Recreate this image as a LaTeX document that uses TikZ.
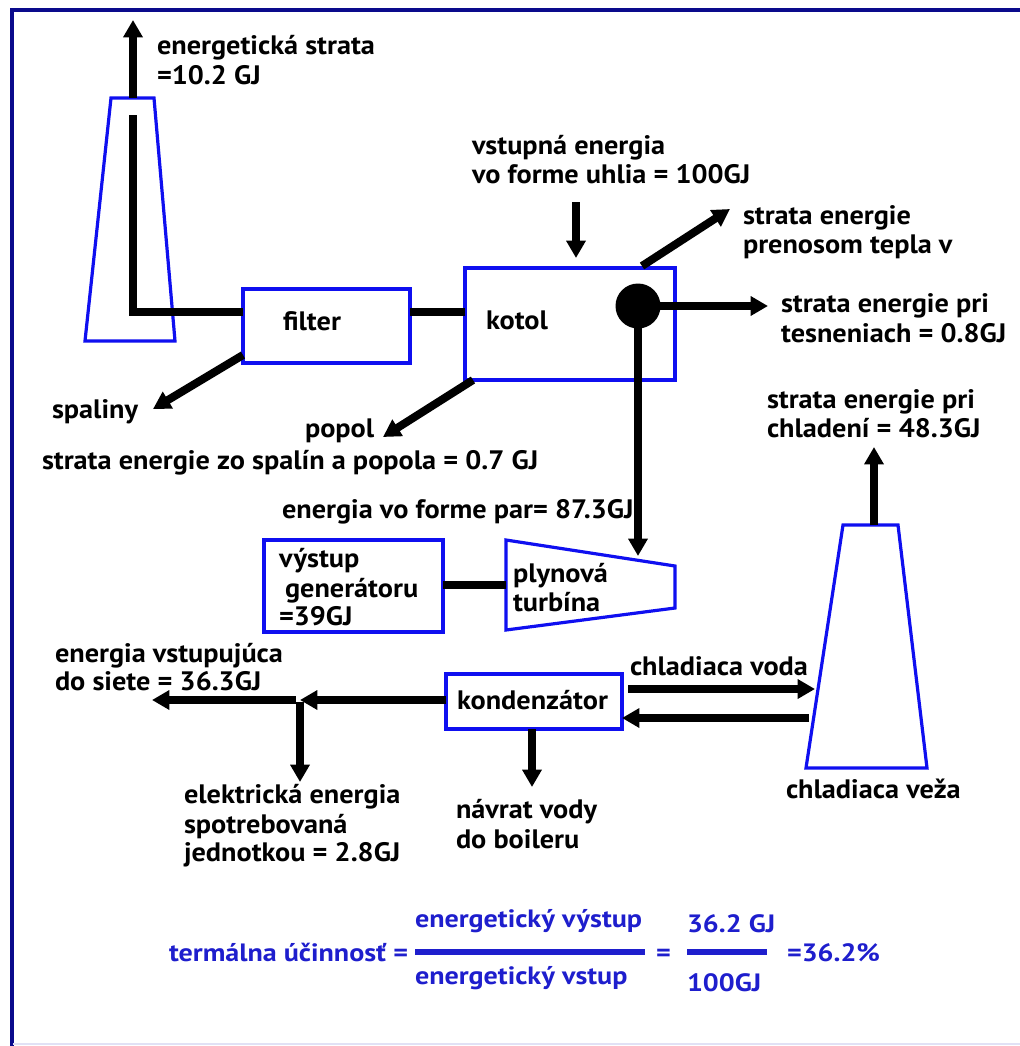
\documentclass[tikz,border=0pt]{standalone}
\usepackage{fontspec}
\setmainfont{PT Sans}[FakeStretch=1.06]
\newfontfamily\ffont{PT Sans}[FakeStretch=1.12]
\usetikzlibrary{arrows.meta,fit}
\definecolor{navy}{RGB}{10,10,140}
\definecolor{boxblue}{RGB}{15,15,240}
\definecolor{fblue}{RGB}{30,30,205}
\definecolor{lav}{RGB}{225,225,245}
\newdimen\px \px=0.75pt
\newcommand{\lblfont}{\bfseries\fontsize{20}{24}\selectfont}
\newcommand{\fmlfont}{\ffont\bfseries\fontsize{18.8}{22}\selectfont\color{fblue}}
\begin{document}
\begin{tikzpicture}[x=0.75pt,y=-0.75pt,
  lbl/.style={anchor=base west, inner sep=0pt, outer sep=0pt, font=\lblfont, align=left},
  flbl/.style={anchor=base west, inner sep=0pt, outer sep=0pt, font=\fmlfont},
  flow/.style={line width=6pt, black},
  arr/.style={flow, -{Triangle[length=13pt,width=14pt]}},
  unit/.style={draw=boxblue, line width=2.6pt, inner sep=0pt, outer sep=0pt},
  tower/.style={draw=boxblue, line width=2.4pt, line join=miter},
  fracline/.style={draw=fblue, line width=3.8pt}]
\fill[white] (0,0) rectangle (1020,1046);
\useasboundingbox (0,0) rectangle (1020,1046);
% frame
\draw[navy, line width=3pt] (11.5,1046) -- (11.5,9.5) -- (1020,9.5);
\draw[lav, line width=1.5pt] (13,1044) -- (1020,1044);

% chimney
\draw[tower] (111,98) -- (154,98) -- (175,341) -- (85,341) -- cycle;
\coordinate (chimtop) at (133,98);
\coordinate (chimout) at (133,20);
\coordinate (flueA) at (133,115);
\coordinate (flueB) at (133,312);

% units
\node[unit, fit={(243,289)(410,363)}] (filter) {};
\node[unit, fit={(465,268)(675,380)}] (kotol) {};
\node[unit, fit={(264,540)(443,632)}] (gen) {};
\node[unit, fit={(446,674)(622,729)}] (kond) {};
\draw[tower] (506,540) -- (675,566) -- (675,608) -- (506,630) -- cycle;
\coordinate (turbtop) at (638,556);
\coordinate (turbin) at (506,585);
\draw[tower] (843,525) -- (898,525) -- (927,768) -- (806,768) -- cycle;
\coordinate (towtop) at (874,525);
\coordinate (towout) at (874,447);

\node[circle, fill=black, minimum size=45\px, inner sep=0pt] (dot) at (638,306) {};

% texts
\node[lbl] at (157,54) {energetická strata};
\node[lbl] at (157,84) {=10.2 GJ};
\node[lbl] at (472,154) {vstupná energia};
\node[lbl] at (472,183) {vo forme uhlia = 100GJ};
\node[lbl] at (743,224) {strata energie};
\node[lbl] at (743,253) {prenosom tepla v};
\node[lbl] at (781,312) {strata energie pri};
\node[lbl] at (781,342) {tesneniach = 0.8GJ};
\node[lbl] at (283,330) {filter};
\node[lbl] at (486,329) {kotol};
\node[lbl] at (52,418) {spaliny};
\node[lbl] at (305,437) {popol};
\node[lbl] at (42,469) {strata energie zo spalín a popola = 0.7 GJ};
\node[lbl] at (767,408) {strata energie pri};
\node[lbl] at (767,437) {chladení = 48.3GJ};
\node[lbl] at (282,518) {energia vo forme par= 87.3GJ};
\node[lbl] at (279,567) {výstup};
\node[lbl] at (285,597) {generátoru};
\node[lbl] at (279,625) {=39GJ};
\node[lbl] at (513,582) {plynová};
\node[lbl] at (513,611) {turbína};
\node[lbl] at (55,662) {energia vstupujúca};
\node[lbl] at (55,690) {do siete = 36.3GJ};
\node[lbl] at (630,675) {chladiaca voda};
\node[lbl] at (457,709) {kondenzátor};
\node[lbl] at (786,798) {chladiaca veža};
\node[lbl] at (184,803) {elektrická energia};
\node[lbl] at (184,833) {spotrebovaná};
\node[lbl] at (184,861) {jednotkou = 2.8GJ};
\node[lbl] at (456,818) {návrat vody};
\node[lbl] at (456,848) {do boileru};

% free ends
\coordinate (coalin) at (576,202);
\coordinate (coalend) at (576,258);
\coordinate (heatend) at (730,209);
\coordinate (sealend) at (768,306);
\coordinate (spalend) at (153,409);
\coordinate (popend) at (383,437);
\coordinate (junc) at (300,700);
\coordinate (gridend) at (152,700);
\coordinate (selfend) at (300,782);
\coordinate (boilend) at (532,787);

% connectors
\draw[arr] (chimtop) -- (chimout);
\draw[flow] (flueA) -- (flueB) -- (filter.west |- flueB);
\draw[flow] (filter.east |- flueB) -- (kotol.west |- flueB);
\draw[arr] (filter.south west) ++(0,-8) -- (spalend);
\draw[arr] (kotol.south west) ++(8,0) -- (popend);
\draw[arr] (coalin) -- (coalend);
\draw[arr] (kotol.north -| 642,0) ++(0,-2) -- (heatend);
\draw[arr] (dot.center) -- (sealend);
\draw[arr] (dot.center) -- (turbtop);
\draw[flow] (gen.east |- turbin) -- (turbin);
\draw[arr] (kond.west |- junc) -- (junc);
\draw[arr] (junc) ++(-4,0) -- (gridend);
\draw[arr] (junc) ++(0,2) -- (selfend);
\draw[arr] (kond.south -| boilend) -- (boilend);
\draw[arr] (kond.east |- 0,689) ++(6,0) -- (815,689) coordinate (cwin);
\coordinate (cwout) at (809,718);
\draw[arr] (cwout) -- (kond.east |- cwout);
\draw[arr] (towtop) -- (towout);

% efficiency formula
\node[flbl] (eff) at (169,961) {termálna účinnosť =};
\node[flbl] (num1) at (415,927) {energetický výstup};
\node[flbl] (den1) at (415,984) {energetický vstup};
\node[flbl] (eq2) at (656,961) {=};
\node[flbl] (num2) at (687,932) {36.2 GJ};
\node[flbl] (den2) at (687,991) {100GJ};
\node[flbl] (res) at (787,961) {=36.2\%};
\draw[fracline] (415,952) -- (645,952);
\draw[fracline] (687,952) -- (767,952);
\end{tikzpicture}
\end{document}
